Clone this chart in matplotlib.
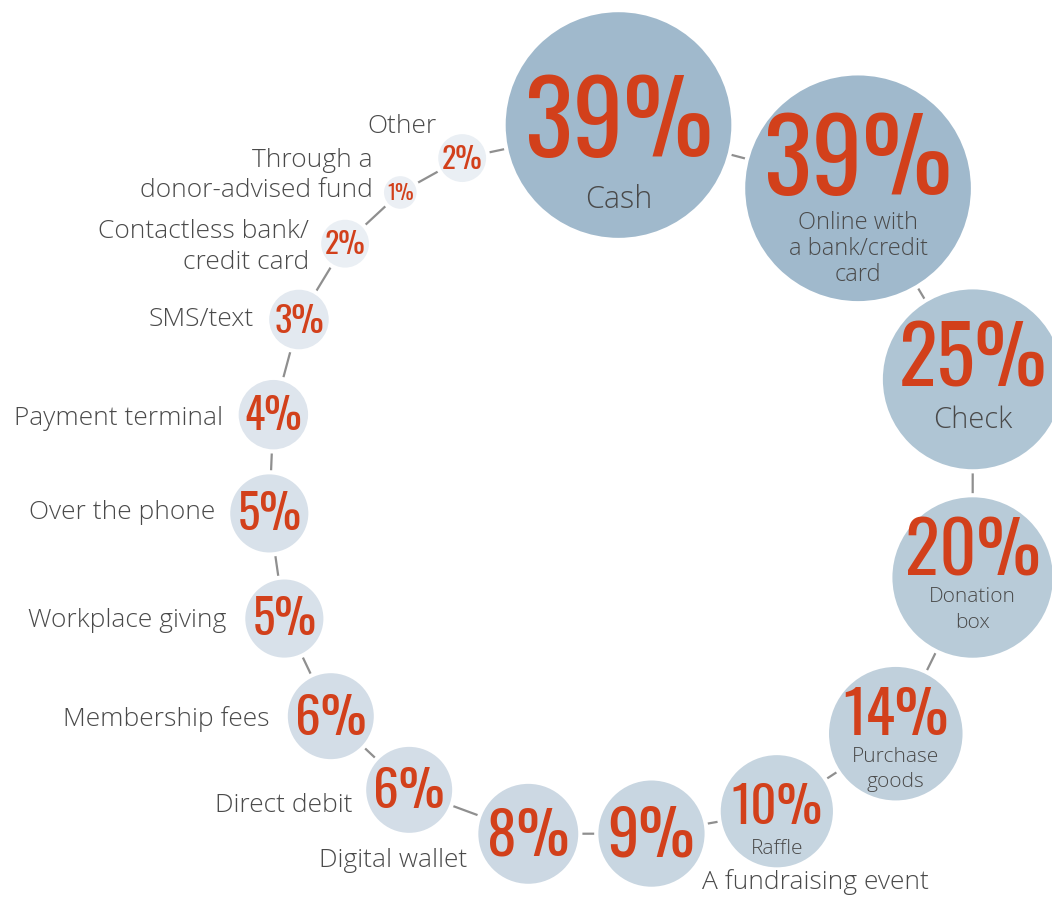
import numpy as np
import matplotlib
matplotlib.use("Agg")
import matplotlib.pyplot as plt
from matplotlib.patches import Circle
from matplotlib import font_manager


## Data: share of donors using each payment method (%)
methods = ["Cash", "Online with\na bank/credit\ncard", "Check", "Donation\nbox",
           "Purchase\ngoods", "Raffle", "A fundraising event", "Digital wallet",
           "Direct debit", "Membership fees", "Workplace giving", "Over the phone",
           "Payment terminal", "SMS/text", "Contactless bank/\ncredit card",
           "Through a\ndonor-advised fund", "Other"]
shares = [39, 39, 25, 20, 14, 10, 9, 8, 6, 6, 5, 5, 4, 3, 2, 1, 2]

## Layout settings
W, H = 1052, 900
ring_cx, ring_cy = 625, 478      # centre of the ring of bubbles
ring_a = 356                     # ring half-size
ring_n = 2.3                     # superellipse exponent
left_drop = 12                   # left half of the ring sits a bit lower
size_k = 18.4                    # bubble radius per sqrt(percent)
# relative spacing between neighbouring bubbles (i -> i+1, last -> first)
link_gap = [18, 16, 24, 23, 15, 14, 16, 30, 17.5, 22, 24, 21, 30, 31, 31, 26.5, 19]

RED = "#d2401b"
GREY_TXT = "#4a4a4a"
LINE = "#8f8f8f"

# bubble colour scale (percent -> colour)
col_vals = [1, 2, 3, 5, 6, 9, 14, 20, 25, 39]
col_hex = ["#ebeff4", "#eaeff4", "#e3e9f0", "#d8e1ea", "#d3dde7",
           "#c8d6e1", "#c0d0dc", "#b8cbd8", "#afc5d4", "#a0b9cc"]

# labels drawn inside the bubble: index -> (pct dy, label dy, label size, line spacing)
inside = {0: (-0.04, 0.65, 22, 1.15), 1: (-0.26, 0.53, 17, 1.1),
          2: (-0.24, 0.44, 21, 1.15), 3: (-0.34, 0.40, 15, 1.4),
          4: (-0.29, 0.52, 15, 1.3), 5: (-0.09, 0.65, 15, 1.15)}
# labels drawn outside: index -> (align, gap, dy)
outside = {6: ("left", 51, 48), 7: ("right", 9, 27), 8: ("right", 12, 16),
           9: ("right", 16, 3), 10: ("right", 17, 2), 11: ("right", 13, -1),
           12: ("right", 14, 4), 13: ("right", 13, 0), 14: ("right", 10, 3),
           15: ("right", 9, -17), 16: ("right", 0, -32)}

## Fonts
fl = font_manager.fontManager.ttflist
names = {f.name for f in fl}
if "Oswald" in names:
    pct_font = dict(family="Oswald", weight="bold")
elif "Roboto Condensed" in names:
    pct_font = dict(family="Roboto Condensed", weight="bold")
elif "Liberation Sans Narrow" in names:
    pct_font = dict(family="Liberation Sans Narrow", weight="bold")
elif any(f.name == "DejaVu Sans" and f.stretch == "condensed" for f in fl):
    pct_font = dict(family="DejaVu Sans", stretch="condensed", weight="bold")
else:
    pct_font = dict(family="Roboto", weight="bold")
lab_font = dict(family="Open Sans", weight="light", color=GREY_TXT)

## Bubble positions along the ring
n = len(shares)
radii = size_k * np.sqrt(np.array(shares, dtype=float))
gaps = np.array(link_gap, dtype=float)


def ring_point(t):
    c, s = np.cos(t), np.sin(t)
    x = ring_a * np.sign(c) * np.abs(c) ** (2 / ring_n)
    y = ring_a * np.sign(s) * np.abs(s) ** (2 / ring_n)
    drop = left_drop * np.clip(-c, 0, None) ** 0.3
    return ring_cx + x, ring_cy - y + drop


ts = np.linspace(np.pi / 2 + 0.01, np.pi / 2 + 0.01 - 2 * np.pi, 40001)
px, py = ring_point(ts)


def place(scale):
    idx = [0]
    for i in range(1, n):
        j0 = idx[-1]
        need = radii[i - 1] + radii[i] + scale * gaps[i - 1]
        d = np.hypot(px[j0:] - px[j0], py[j0:] - py[j0])
        idx.append(j0 + int(np.argmax(d >= need)))
    j = idx[-1]
    rest = np.hypot(px[j] - px[0], py[j] - py[0]) - (radii[-1] + radii[0] + scale * gaps[-1])
    return idx, rest


lo, hi = 0.3, 2.0
for _ in range(40):
    mid = (lo + hi) / 2
    if place(mid)[1] > 0:
        lo = mid
    else:
        hi = mid
idx, _ = place((lo + hi) / 2)
cx, cy = px[idx], py[idx]

## Colours
rgb = np.array([matplotlib.colors.to_rgb(c) for c in col_hex])
fills = [tuple(np.interp(v, col_vals, rgb[:, k]) for k in range(3)) for v in shares]

## Plot
fig = plt.figure(figsize=(W / 100, H / 100), dpi=100)
ax = fig.add_axes([0, 0, 1, 1])
ax.set_xlim(0, W)
ax.set_ylim(H, 0)
ax.set_aspect("equal")
ax.axis("off")

for i in range(n):
    j = (i + 1) % n
    ax.plot([cx[i], cx[j]], [cy[i], cy[j]], color=LINE, lw=1.6, zorder=1)

for i in range(n):
    r = radii[i]
    ax.add_patch(Circle((cx[i], cy[i]), r, facecolor=fills[i],
                        edgecolor="white", lw=3, zorder=2))
    if i in inside:
        pdy, ldy, lsize, lsp = inside[i]
        fs = 0.63 * r
        ax.text(cx[i], cy[i] + pdy * r + 0.5 * fs, f"{shares[i]}%", color=RED,
                fontsize=fs, ha="center", va="baseline", zorder=3, **pct_font)
        ax.text(cx[i], cy[i] + ldy * r, methods[i], fontsize=lsize, ha="center",
                va="center", linespacing=lsp, zorder=3, **lab_font)
    else:
        fs = 0.82 * r
        ax.text(cx[i], cy[i] + 0.5 * fs, f"{shares[i]}%", color=RED,
                fontsize=fs, ha="center", va="baseline", zorder=3, **pct_font)
        ha, gap, dy = outside[i]
        x = cx[i] - r - gap if ha == "right" else cx[i] + gap
        ax.text(x, cy[i] + dy, methods[i], fontsize=19, ha=ha, va="center",
                multialignment=ha, linespacing=1.3, zorder=3, **lab_font)

fig.savefig("out.png", dpi=100, facecolor="white")
